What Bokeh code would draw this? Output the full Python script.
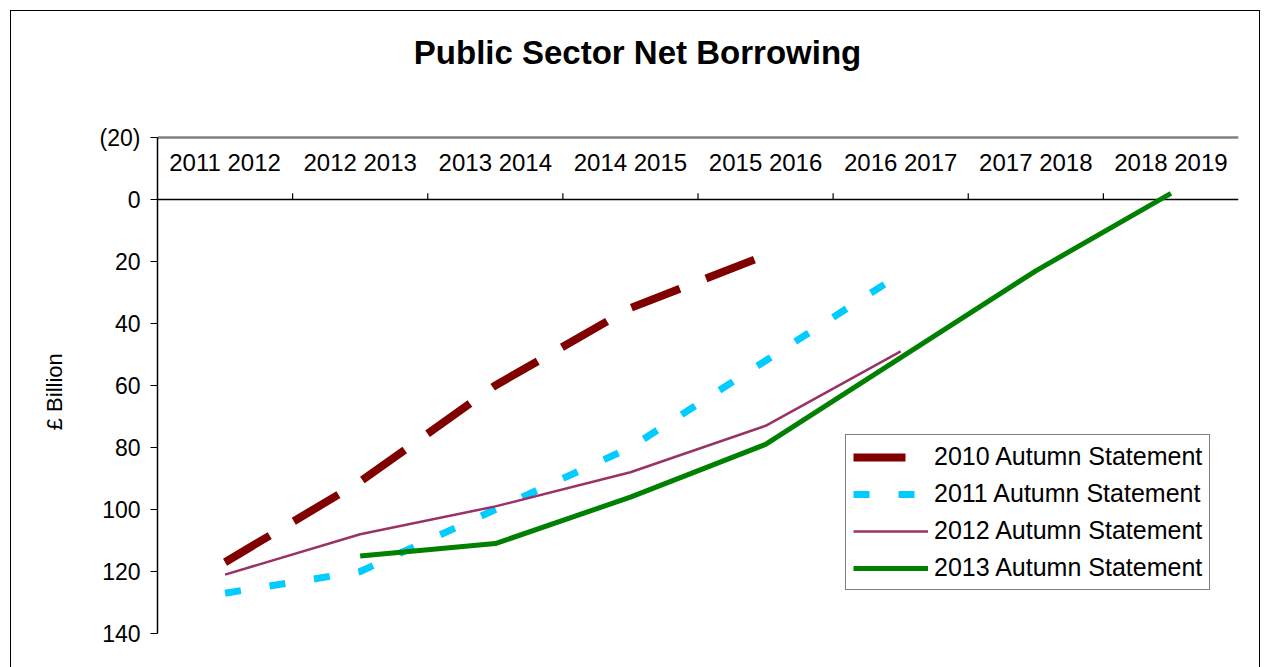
from bokeh.plotting import figure
from bokeh.models import Range1d, FixedTicker, Legend, LegendItem
from bokeh.core.properties import value
from bokeh.embed import file_html
from bokeh.resources import INLINE

categories = ["2011 2012", "2012 2013", "2013 2014", "2014 2015",
              "2015 2016", "2016 2017", "2017 2018", "2018 2019"]
as2010 = [117, 91, 60, 35, 18]
as2011 = [127, 120, 100, 80, 52, 24]
as2012 = [121, 108, 99, 88, 73, 49]
as2013 = [115, 111, 96, 79, 51, 23, -2]
as2013_start = 1  # first category index of the 2013 series
y_ticks = [-20, 0, 20, 40, 60, 80, 100, 120, 140]
title_text = "Public Sector Net Borrowing"
y_label = "£ Billion"

FONT = "Liberation Sans"
W, H = 1268, 667
FL, FR, FT, FB = 157, 1238, 137, 633   # plot area of the chart
TOP = 15                                # frame top (extra room for title)
n = len(categories)
ymin, ymax = y_ticks[0], y_ticks[-1]
px_per_y = (FB - FT) / (ymax - ymin)
px_per_x = (FR - FL) / n
y_top = ymin - (FT - TOP) / px_per_y

p = figure(width=W, height=H, output_backend="svg", toolbar_location=None,
           x_range=Range1d(0, n), y_range=Range1d(ymax, y_top),
           x_axis_location=None, y_axis_location="left",
           min_border_left=FL, min_border_right=W - FR,
           min_border_top=TOP, min_border_bottom=H - FB)
p.outline_line_color = None
p.xgrid.visible = False
p.ygrid.visible = False
p.background_fill_color = "white"
p.border_fill_color = "white"

# title
p.text(x=[(W / 2 + 3 - FL) / px_per_x], y=[ymin - (FT - 52) / px_per_y], text=[title_text],
       text_font=value(FONT), text_font_size="33px", text_font_style="bold",
       text_color="black", text_align="center", text_baseline="middle")

ax = p.yaxis[0]
ax.bounds = (ymin, ymax)
ax.ticker = FixedTicker(ticks=y_ticks)
ax.major_label_overrides = {-20: "(20)"}
ax.major_label_text_font = FONT
ax.major_label_text_font_size = "23px"
ax.major_label_text_color = "black"
ax.major_label_standoff = 10
ax.major_tick_out = 7
ax.major_tick_in = 0
ax.minor_tick_out = 0
ax.minor_tick_in = 0
ax.axis_line_color = "black"
ax.axis_line_width = 1.5
ax.major_tick_line_color = "black"
# trailing no-break spaces shift the centred label down to the plot-area middle
ax.axis_label = y_label + "\u00a0" * 22
ax.axis_label_text_font = FONT
ax.axis_label_text_font_size = "22px"
ax.axis_label_text_font_style = "normal"
ax.axis_label_text_color = "black"
ax.axis_label_standoff = 30

# top grey line at -20
p.segment(x0=[0], y0=[ymin], x1=[n], y1=[ymin], line_color="#808080", line_width=2.5)
# category axis at 0 with boundary ticks
p.segment(x0=[0], y0=[0], x1=[n], y1=[0], line_color="black", line_width=1.5)
p.segment(x0=list(range(1, n)), y0=[0] * (n - 1), x1=list(range(1, n)), y1=[-2] * (n - 1),
          line_color="black", line_width=1.2)

# category labels
p.text(x=[i + 0.5 for i in range(n)], y=[-12] * n, text=categories,
       text_font=value(FONT), text_font_size="24px", text_align="center",
       text_baseline="middle", text_color="black")

def xs(start, vals):
    return [start + i + 0.5 for i in range(len(vals))]

r10 = p.line(xs(0, as2010), as2010, line_color="#800000", line_width=8, line_dash="52 28")
r11 = p.line(xs(0, as2011), as2011, line_color="#00CCFF", line_width=7, line_dash="16 29")
r12 = p.line(xs(0, as2012), as2012, line_color="#993366", line_width=2.5)
r13 = p.line(xs(as2013_start, as2013), as2013, line_color="#008000", line_width=5)

legend = Legend(items=[
    LegendItem(label="2010 Autumn Statement", renderers=[r10]),
    LegendItem(label="2011 Autumn Statement", renderers=[r11]),
    LegendItem(label="2012 Autumn Statement", renderers=[r12]),
    LegendItem(label="2013 Autumn Statement", renderers=[r13]),
], location=(845 - FL, FB - 590))
legend.border_line_color = "black"
legend.border_line_width = 1.5
legend.background_fill_color = "white"
legend.background_fill_alpha = 1
legend.label_text_font = FONT
legend.label_text_font_size = "25px"
legend.label_text_color = "black"
legend.glyph_width = 75
legend.glyph_height = 20
legend.label_standoff = 6
legend.label_height = 24
legend.spacing = 8
legend.padding = 7
legend.margin = 0
p.add_layout(legend, "center")

html = file_html(p, INLINE)
frame_div = ('<div style="position:absolute;left:10px;top:10px;width:1248px;height:700px;'
             'border:1.5px solid black;pointer-events:none;z-index:10"></div>')
html = html.replace("</body>", frame_div + "</body>", 1)
open("out.html", "w").write(html)
